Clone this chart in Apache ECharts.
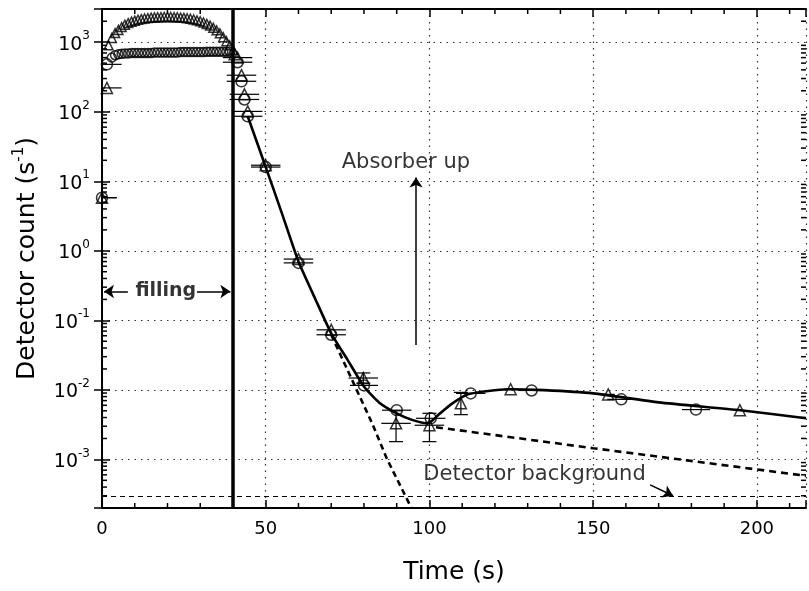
<!DOCTYPE html>
<html>
<head>
<meta charset="utf-8">
<script src="https://cdn.jsdelivr.net/npm/echarts@6/dist/echarts.min.js"></script>
<style>
html, body { margin: 0; padding: 0; background: #fff; }
#main { width: 809px; height: 591px; }
</style>
</head>
<body>
<div id="main"></div>
<script>
// ---- data ----
// filling (0-40 s): upper arc of triangles, lower plateau of circles
const arcTime = [2, 3, 4, 5, 6, 7, 8, 9, 10, 11, 12, 13, 14, 15, 16, 17, 18, 19, 20, 21,
                 22, 23, 24, 25, 26, 27, 28, 29, 30, 31, 32, 33, 34, 35, 36, 37, 38, 39, 40];
const arcCount = [900, 1150, 1350, 1500, 1650, 1780, 1880, 1970, 2040, 2100, 2150, 2190, 2220, 2250,
                  2270, 2280, 2290, 2300, 2300, 2300, 2290, 2280, 2260, 2240, 2210, 2170, 2120, 2060,
                  2000, 1920, 1830, 1730, 1610, 1480, 1340, 1180, 1030, 900, 780];
const plateauTime = [3, 4, 5, 6, 7, 8, 9, 10, 11, 12, 13, 14, 15, 16, 17, 18, 19, 20, 21, 22,
                     23, 24, 25, 26, 27, 28, 29, 30, 31, 32, 33, 34, 35, 36, 37, 38, 39];
const plateauCount = [600, 650, 670, 680, 690, 690, 700, 700, 700, 700, 700, 700, 700, 710, 710, 710,
                      710, 710, 710, 710, 710, 720, 720, 720, 720, 720, 720, 720, 720, 730, 730, 730,
                      730, 730, 730, 730, 730];

// circles with horizontal error bars
const circTime  = [0, 1.5, 41.4, 42.6, 43.5, 44.5, 50, 60, 70, 80, 90, 100.4, 112.6, 131.2, 158.6, 181.4];
const circCount = [5.8, 480, 515, 274, 150, 86, 16, 0.67, 0.062, 0.0116, 0.0051, 0.0039, 0.0089, 0.0098, 0.0073, 0.0052];
const circErrX  = [4.5, 4.5, 4.5, 4.5, 4.5, 4.5, 4.5, 4.5, 4.5, 4.3, 4.5, 4.5, 4.5, 4, 4.3, 4.3];

// triangles, horizontal + vertical error bars (0 = none)
const triTime  = [0, 1.5, 40.5, 41.4, 42.6, 43.5, 44.5, 50, 60, 70, 79.8, 89.8, 100, 109.6, 124.8, 154.6, 194.8];
const triCount = [5.8, 220, 672, 600, 335, 178, 101, 17, 0.76, 0.073, 0.0148, 0.0033, 0.0031, 0.0064, 0.0102, 0.0086, 0.0051];
const triErrX  = [4.5, 4.5, 0, 4.5, 4.5, 4.5, 4.5, 4.5, 4.5, 4.5, 4.5, 4.5, 4.5, 0, 2, 2, 0];
const triLow   = [0, 0, 0, 0, 0, 0, 0, 0, 0, 0, 0.0125, 0.0018, 0.0018, 0.0044, 0, 0, 0];
const triHigh  = [0, 0, 0, 0, 0, 0, 0, 0, 0, 0, 0.0175, 0.0050, 0.0046, 0.0092, 0, 0, 0];

// fitted curve (solid)
const fitTime  = [44.5, 50, 55, 60, 65, 70, 75, 80, 84.6, 90, 94.7, 99.5, 103, 107, 112, 124, 135, 150, 170, 195, 215];
const fitCount = [86, 16, 3.4, 0.7, 0.21, 0.065, 0.027, 0.0112, 0.0066, 0.0046, 0.0037, 0.0033, 0.0045, 0.0064,
                  0.0087, 0.0102, 0.0099, 0.0089, 0.0066, 0.0051, 0.0039];
// fast decay extrapolation (dashed)
const decayTime  = [70, 82.5, 87, 94.5];
const decayCount = [0.062, 0.0033, 0.00102, 0.0002];
// slow component (dashed)
const slowTime  = [102, 150, 215];
const slowCount = [0.0029, 0.00145, 0.00058];

const bgLevel = 3e-4;      // detector background
const fillEnd = 40;        // end of filling
const xMinorTicks = [10, 20, 30, 40, 60, 70, 80, 90, 110, 120, 130, 140, 160, 170, 180, 190, 210];

const X_MIN = 0, X_MAX = 215, Y_MIN = 2e-4, Y_MAX = 3000;
const FONT = 'DejaVu Sans';

// log minor ticks 2..9 per decade
const yMinorTicks = [];
for (let e = -4; e <= 3; e++) {
  for (let m = 2; m <= 9; m++) {
    const v = m * Math.pow(10, e);
    if (v > Y_MIN * 1.001 && v < Y_MAX * 0.999) yMinorTicks.push(v);
  }
}

const pairs = (xs, ys) => xs.map((x, i) => [x, ys[i]]);

const blk = '#000';

function renderErr(params, api) {
  const x = api.value(0), y = api.value(1), ex = api.value(2), lo = api.value(3), hi = api.value(4);
  const style = { stroke: blk, lineWidth: 1.2 };
  const children = [];
  if (ex > 0) {
    const a = api.coord([x - ex, y]), b = api.coord([x + ex, y]);
    children.push({ type: 'line', shape: { x1: a[0], y1: a[1], x2: b[0], y2: b[1] }, style: style });
  }
  if (lo > 0) {
    const a = api.coord([x, lo]), b = api.coord([x, hi]);
    children.push({ type: 'line', shape: { x1: a[0], y1: a[1], x2: b[0], y2: b[1] }, style: style });
    children.push({ type: 'line', shape: { x1: a[0] - 7, y1: a[1], x2: a[0] + 7, y2: a[1] }, style: style });
    children.push({ type: 'line', shape: { x1: b[0] - 7, y1: b[1], x2: b[0] + 7, y2: b[1] }, style: style });
  }
  return { type: 'group', children: children };
}

function renderXMinor(params, api) {
  const v = api.value(0);
  const b = api.coord([v, Y_MIN]), t = api.coord([v, Y_MAX]);
  const s = { stroke: blk, lineWidth: 1.5 };
  return { type: 'group', children: [
    { type: 'line', shape: { x1: b[0], y1: b[1], x2: b[0], y2: b[1] - 5 }, style: s },
    { type: 'line', shape: { x1: t[0], y1: t[1], x2: t[0], y2: t[1] + 5 }, style: s }
  ] };
}

function renderYMinor(params, api) {
  const v = api.value(1);
  const l = api.coord([X_MIN, v]), r = api.coord([X_MAX, v]);
  const s = { stroke: blk, lineWidth: 1.5 };
  return { type: 'group', children: [
    { type: 'line', shape: { x1: l[0], y1: l[1], x2: l[0] + 5, y2: l[1] }, style: s },
    { type: 'line', shape: { x1: r[0], y1: r[1], x2: r[0] - 5, y2: r[1] }, style: s }
  ] };
}

const gridLine = { show: true, lineStyle: { color: '#333', width: 1.2, type: [1.5, 5] } };
const axisLineStyle = { show: true, lineStyle: { color: blk, width: 2 } };

const option = {
  animation: false,
  backgroundColor: '#fff',
  grid: { left: 102, right: 2, top: 9, bottom: 83 },
  xAxis: [
    {
      type: 'value', min: X_MIN, max: X_MAX, interval: 50,
      name: 'Time (s)', nameLocation: 'middle', nameGap: 52,
      nameTextStyle: { fontFamily: FONT, fontSize: 25, color: blk },
      axisLine: axisLineStyle,
      axisTick: { show: true, inside: true, length: 8, lineStyle: { color: blk, width: 1.5 } },
      axisLabel: {
        fontFamily: FONT, fontSize: 18, color: blk, margin: 12,
        formatter: v => (v % 50 === 0 ? String(v) : '')
      },
      splitLine: gridLine
    },
    {
      type: 'value', position: 'top', min: X_MIN, max: X_MAX, interval: 50,
      axisLine: axisLineStyle,
      axisTick: { show: true, inside: true, length: 8, lineStyle: { color: blk, width: 1.5 } },
      axisLabel: { show: false }, splitLine: { show: false }
    }
  ],
  yAxis: [
    {
      type: 'log', logBase: 10, min: Y_MIN, max: Y_MAX,
      name: 'Detector count (s{sup|-1})', nameLocation: 'middle', nameGap: 60,
      nameTextStyle: {
        fontFamily: FONT, fontSize: 25, color: blk,
        rich: { sup: { fontFamily: FONT, fontSize: 15, color: blk, verticalAlign: 'top', lineHeight: 30 } }
      },
      axisLine: axisLineStyle,
      axisTick: { show: true, inside: true, length: 8, lineStyle: { color: blk, width: 1.5 } },
      axisLabel: {
        margin: 12, color: blk,
        formatter: function (v) {
          const e = Math.log10(v), r = Math.round(e);
          if (Math.abs(e - r) > 1e-6) return '';
          return '{b|10}{sup|' + r + '}';
        },
        rich: {
          b: { fontFamily: FONT, fontSize: 19, color: blk, lineHeight: 24, verticalAlign: 'bottom' },
          sup: { fontFamily: FONT, fontSize: 12, color: blk, lineHeight: 24, verticalAlign: 'top' }
        }
      },
      splitLine: gridLine
    },
    {
      type: 'log', logBase: 10, min: Y_MIN, max: Y_MAX, position: 'right',
      axisLine: axisLineStyle,
      axisTick: { show: true, inside: true, length: 8, lineStyle: { color: blk, width: 1.5 } },
      axisLabel: { show: false }, splitLine: { show: false }
    }
  ],
  series: [
    {
      type: 'custom', name: 'xMinor', renderItem: renderXMinor, silent: true, clip: false,
      data: xMinorTicks.map(v => [v, Y_MIN]), encode: { x: 0, y: 1 }, z: 5
    },
    {
      type: 'custom', name: 'yMinor', renderItem: renderYMinor, silent: true, clip: false,
      data: yMinorTicks.map(v => [X_MIN, v]), encode: { x: 0, y: 1 }, z: 5
    },
    {
      type: 'line', name: 'fit', data: pairs(fitTime, fitCount), smooth: 0.2,
      showSymbol: false, lineStyle: { color: blk, width: 2.6 }, z: 3
    },
    {
      type: 'line', name: 'decay', data: pairs(decayTime, decayCount),
      showSymbol: false, lineStyle: { color: blk, width: 2.6, type: [6, 4] }, z: 3
    },
    {
      type: 'line', name: 'slow', data: pairs(slowTime, slowCount),
      showSymbol: false, lineStyle: { color: blk, width: 2.6, type: [7, 5] }, z: 3
    },
    {
      type: 'custom', name: 'circErr', renderItem: renderErr, clip: true,
      data: circTime.map((t, i) => [t, circCount[i], circErrX[i], 0, 0]), encode: { x: 0, y: 1 }, z: 4
    },
    {
      type: 'custom', name: 'triErr', renderItem: renderErr, clip: true,
      data: triTime.map((t, i) => [t, triCount[i], triErrX[i], triLow[i], triHigh[i]]), encode: { x: 0, y: 1 }, z: 4
    },
    {
      type: 'scatter', name: 'arc', data: pairs(arcTime, arcCount), symbol: 'triangle', symbolSize: 9,
      itemStyle: { color: 'rgba(255,255,255,0)', borderColor: blk, borderWidth: 1.5 }, z: 6
    },
    {
      type: 'scatter', name: 'plateau', data: pairs(plateauTime, plateauCount), symbol: 'circle', symbolSize: 9,
      itemStyle: { color: 'rgba(255,255,255,0)', borderColor: blk, borderWidth: 1.5 }, z: 6
    },
    {
      type: 'scatter', name: 'circles', data: pairs(circTime, circCount), symbol: 'circle', symbolSize: 11,
      itemStyle: { color: 'rgba(255,255,255,0)', borderColor: blk, borderWidth: 1.5 }, z: 6
    },
    {
      type: 'scatter', name: 'triangles', data: pairs(triTime, triCount), symbol: 'triangle', symbolSize: 11,
      itemStyle: { color: 'rgba(255,255,255,0)', borderColor: blk, borderWidth: 1.5 }, z: 6
    },
    {
      type: 'scatter', name: 'notes', symbolSize: 1, silent: true, z: 7,
      itemStyle: { color: 'rgba(0,0,0,0)' },
      label: { show: true, position: 'inside', color: blk, fontFamily: FONT, fontSize: 21,
               formatter: p => p.data.text },
      data: [
        { value: [92.8, 18.5], text: 'Absorber up' },
        { value: [19.5, 0.26], text: 'filling', label: { fontWeight: 'bold', fontSize: 19 } },
        { value: [132.1, 6.0e-4], text: 'Detector background' }
      ],
      markLine: {
        silent: true, symbol: ['none', 'none'], symbolSize: 10,
        label: { show: false },
        lineStyle: { color: blk, width: 1.5, type: 'solid' },
        data: [
          [{ coord: [fillEnd, Y_MIN], lineStyle: { width: 3.5 } }, { coord: [fillEnd, Y_MAX] }],
          [{ coord: [X_MIN, bgLevel], lineStyle: { width: 1.2, type: [5, 4] } }, { coord: [X_MAX, bgLevel] }],
          [{ coord: [95.9, 0.044] }, { coord: [95.9, 11.3], symbol: 'arrow' }],
          [{ coord: [7.9, 0.26] }, { coord: [0.6, 0.26], symbol: 'arrow' }],
          [{ coord: [29, 0.26] }, { coord: [39.2, 0.26], symbol: 'arrow' }],
          [{ coord: [167.4, 4.3e-4] }, { coord: [174.4, bgLevel], symbol: 'arrow' }]
        ]
      }
    }
  ]
};

const chart = echarts.init(document.getElementById('main'));
chart.setOption(option);
</script>
</body>
</html>
